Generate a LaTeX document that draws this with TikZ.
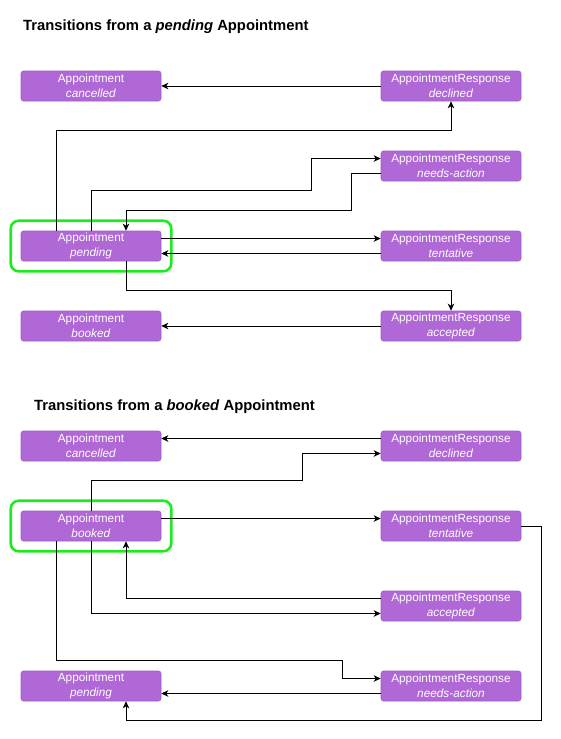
\documentclass[tikz,border=0pt]{standalone}
\usepackage{fontspec}
\setmainfont{Liberation Sans}
\usetikzlibrary{arrows.meta,fit}
\definecolor{boxfill}{RGB}{175,104,214}
\definecolor{boxline}{RGB}{160,92,198}
\definecolor{hlgreen}{RGB}{30,235,30}
\tikzset{
  state/.style={rectangle, rounded corners=2.5pt, fill=boxfill, draw=boxline, line width=0.6pt,
    minimum width=140pt, minimum height=30pt, inner sep=0pt, text=white, align=center,
    font=\fontsize{11.8}{14.5}\selectfont},
  hl/.style={draw=hlgreen, line width=2.6pt, rounded corners=8pt, inner sep=10pt},
  arr/.style={draw=black, line width=0.9pt, -{Stealth[length=7pt,width=6.5pt,inset=2pt]}},
  ttl/.style={anchor=base west, inner sep=0pt, font=\fontsize{14.8}{17}\selectfont\bfseries}
}
\begin{document}
\begin{tikzpicture}[x=1pt,y=-1pt]
\useasboundingbox (0,0) rectangle (560,739);
% ---------- top section ----------
\node[ttl] (t1title) at (23,30) {Transitions from a \textit{pending} Appointment};
\node[state] (c1) at (91,86) {Appointment\\\textit{cancelled}};
\node[state] (d1) at (451,86) {AppointmentResponse\\\textit{declined}};
\node[state] (na1) at (451,166) {AppointmentResponse\\\textit{needs-action}};
\node[state] (p1) at (91,246) {Appointment\\\textit{pending}};
\node[state] (t1) at (451,246) {AppointmentResponse\\\textit{tentative}};
\node[state] (b1) at (91,326) {Appointment\\\textit{booked}};
\node[state] (a1) at (451,326) {AppointmentResponse\\\textit{accepted}};
\node[hl, fit=(p1)] (g1) {};

\draw[arr] (d1.west) -- (c1.east);
\draw[arr] ([xshift=-35pt]p1.north) |- (451,130) -- (d1.south);
\draw[arr] (p1.north) |- (311,190) |- ([yshift=7.5pt]na1.west);
\draw[arr] ([yshift=-7.5pt]na1.west) -| (351,210) -| ([xshift=35pt]p1.north);
\draw[arr] ([yshift=7.5pt]p1.east) -- ([yshift=7.5pt]t1.west);
\draw[arr] ([yshift=-7.5pt]t1.west) -- ([yshift=-7.5pt]p1.east);
\draw[arr] ([xshift=35pt]p1.south) |- (451,290) -- (a1.north);
\draw[arr] (a1.west) -- (b1.east);

% ---------- bottom section ----------
\node[ttl] (t2title) at (34,410.5) {Transitions from a \textit{booked} Appointment};
\node[state] (c2) at (91,446) {Appointment\\\textit{cancelled}};
\node[state] (d2) at (451,446) {AppointmentResponse\\\textit{declined}};
\node[state] (b2) at (91,526) {Appointment\\\textit{booked}};
\node[state] (t2) at (451,526) {AppointmentResponse\\\textit{tentative}};
\node[state] (a2) at (451,606) {AppointmentResponse\\\textit{accepted}};
\node[state] (p2) at (91,686) {Appointment\\\textit{pending}};
\node[state] (na2) at (451,686) {AppointmentResponse\\\textit{needs-action}};
\node[hl, fit=(b2)] (g2) {};

\draw[arr] ([yshift=7.5pt]d2.west) -- ([yshift=7.5pt]c2.east);
\draw[arr] (b2.north) |- (302,480) |- ([yshift=-7.5pt]d2.west);
\draw[arr] ([yshift=7.5pt]b2.east) -- ([yshift=7.5pt]t2.west);
\draw[arr] (t2.east) -| (541,720) -| ([xshift=35pt]p2.south);
\draw[arr] ([yshift=7.5pt]a2.west) -| ([xshift=35pt]b2.south);
\draw[arr] (b2.south) |- ([yshift=-7.5pt]a2.west);
\draw[arr] ([xshift=-35pt]b2.south) |- (342,660) |- ([yshift=7.5pt]na2.west);
\draw[arr] ([yshift=-7.5pt]na2.west) -- ([yshift=-7.5pt]p2.east);
\end{tikzpicture}
\end{document}
